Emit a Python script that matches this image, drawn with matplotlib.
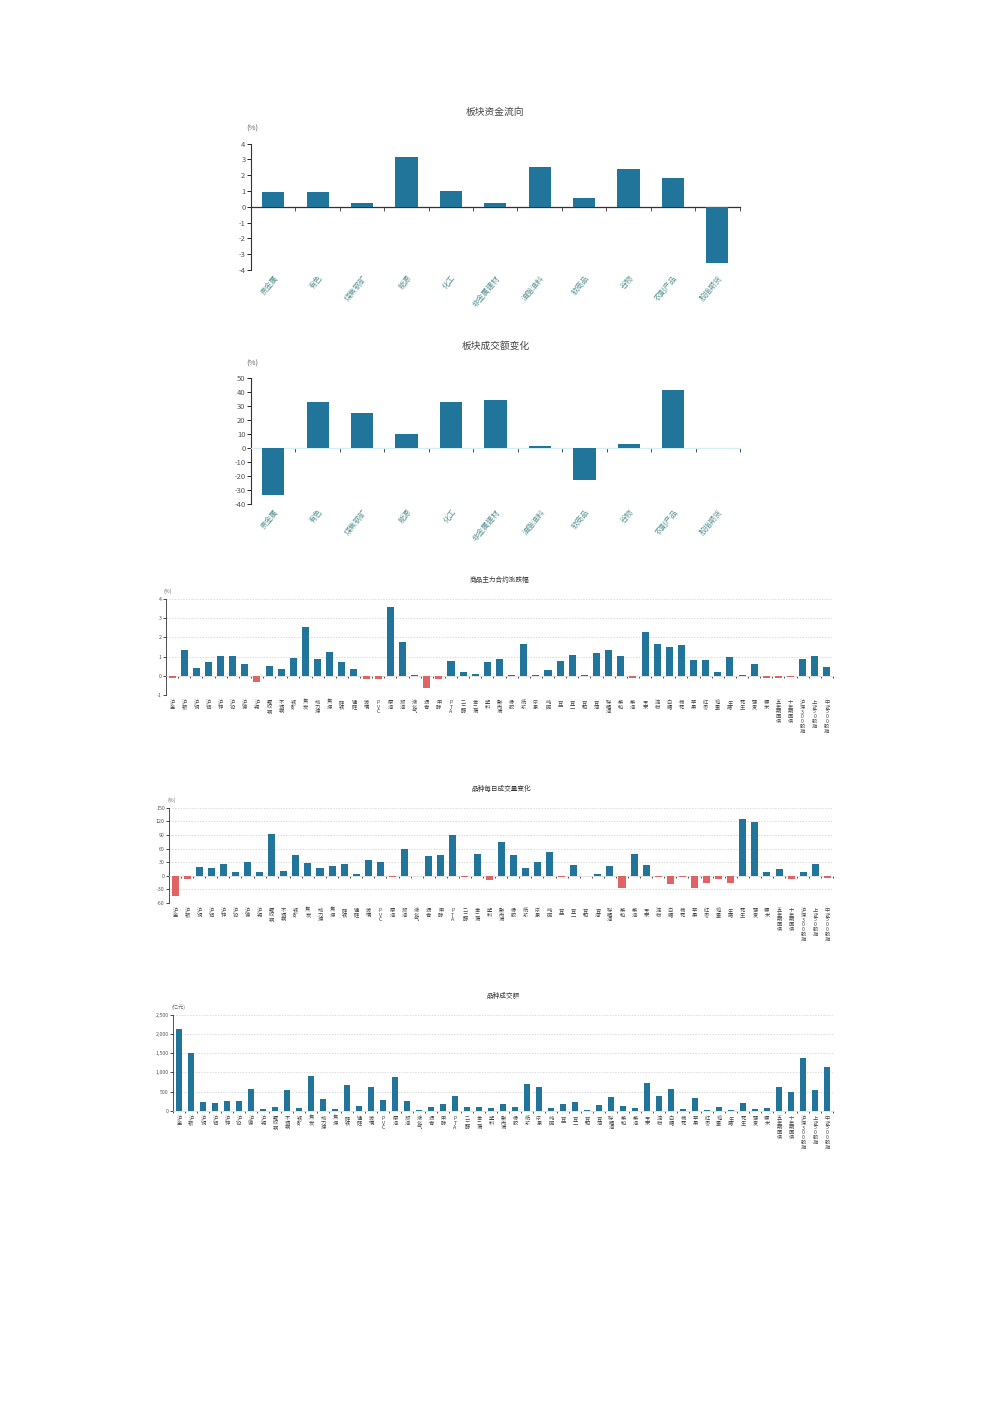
import matplotlib
matplotlib.use('Agg')
import matplotlib.pyplot as plt
import matplotlib.transforms as mtransforms
import numpy as np

plt.rcParams['font.family'] = ['Noto Sans CJK SC', 'DejaVu Sans']
plt.rcParams['axes.unicode_minus'] = False

# sector charts
sectors = ['贵金属', '有色', '煤焦钢矿', '能源', '化工', '非金属建材',
           '油脂油料', '软商品', '谷物', '农副产品', '股指期货']
fund_flow = [0.92, 0.97, 0.23, 3.13, 1.03, 0.25, 2.52, 0.55, 2.37, 1.85, -3.55]
turnover_chg = [-33.1, 33.3, 25.0, 10.0, 33.1, 34.5, 1.7, -22.9, 3.1, 41.7, 0.5]

# product charts
products = ['沪金', '沪银', '沪铜', '沪铝', '沪锌', '沪铅', '沪镍', '沪锡', '螺纹钢', '不锈钢',
            '铁矿', '焦炭', '动力煤', '焦煤', '硅铁', '锰硅', '玻璃', 'PVC', '原油', '燃油',
            '液化气', '沥青', '甲醇', 'PTA', '乙二醇', '苯乙烯', '塑料', '聚丙烯', '橡胶', '纸浆',
            '尿素', '纯碱', '豆一', '豆二', '豆粕', '豆油', '棕榈油', '菜粕', '菜油', '玉米',
            '淀粉', '白糖', '棉花', '苹果', '红枣', '鸡蛋', '生猪', '花生', '强麦', '粳米',
            '五年期国债', '十年期国债', '沪深300股指', '上证50股指', '中证500股指']
pct_change = [-0.10, 1.35, 0.40, 0.72, 1.03, 1.03, 0.61, -0.31, 0.51, 0.35,
              0.93, 2.55, 0.87, 1.22, 0.72, 0.35, -0.19, -0.17, 3.58, 1.77,
              0.05, -0.66, -0.17, 0.77, 0.19, 0.09, 0.72, 0.87, 0.03, 1.66,
              0.03, 0.30, 0.79, 1.07, 0.03, 1.19, 1.33, 1.03, -0.14, 2.29,
              1.64, 1.49, 1.61, 0.80, 0.80, 0.19, 0.98, 0.03, 0.63, -0.09,
              -0.09, -0.07, 0.87, 1.03, 0.45]
volume_chg = [-44.0, -6.6, 19.0, 16.8, 25.6, 8.0, 30.7, 8.0, 91.4, 11.0,
              45.4, 27.8, 16.8, 21.2, 25.6, 2.9, 35.8, 30.7, -2.2, 60.0,
              0.0, 44.6, 45.4, 90.0, -2.2, 47.5, -9.5, 73.9, 45.4, 16.8,
              30.7, 52.7, -2.2, 23.4, 0.0, 2.9, 21.2, -27.0, 47.5, 23.4,
              -2.2, -18.3, -2.2, -26.3, -15.4, -6.6, -16.0, 124.4, 117.8, 8.0,
              15.4, -7.3, 8.0, 25.6, -4.4]
amount = [2119, 1497, 234, 216, 268, 268, 571, 61, 112, 536,
          86, 908, 311, 52, 675, 130, 623, 285, 882, 260,
          26, 104, 182, 389, 104, 104, 78, 182, 95, 700,
          614, 78, 173, 234, 26, 156, 363, 130, 78, 718,
          389, 562, 52, 337, 26, 104, 26, 208, 43, 78,
          623, 493, 1375, 545, 1133]

BLUE = '#21759b'
RED = '#e06464'
W, H = 992, 1403

fig = plt.figure(figsize=(W / 100, H / 100), dpi=100)


def add_ax(left, top, right, bottom):
    return fig.add_axes([left / W, 1 - bottom / H, (right - left) / W, (bottom - top) / H])


def sector_chart(ax, values, ylim, ticks, title, zero_color):
    x = np.arange(len(sectors))
    ax.bar(x, values, width=0.5, color=BLUE, zorder=3)
    ax.set_xlim(-0.5, len(sectors) - 0.5)
    ax.set_ylim(*ylim)
    ax.set_yticks(ticks)
    ax.tick_params(axis='y', labelsize=5.5, labelcolor='#555555', length=3, width=0.6, pad=1)
    for s in ['top', 'right']:
        ax.spines[s].set_visible(False)
    ax.spines['left'].set_linewidth(0.8)
    ax.spines['left'].set_color('#333333')
    ax.spines['bottom'].set_position(('data', 0))
    ax.spines['bottom'].set_color(zero_color)
    ax.spines['bottom'].set_linewidth(0.9)
    ax.set_xticks(np.arange(len(sectors) + 1) - 0.5)
    ax.set_xticklabels([])
    ax.tick_params(axis='x', length=3, width=0.6, color='#333333')
    trans = mtransforms.blended_transform_factory(ax.transData, ax.transAxes)
    for i, name in enumerate(sectors):
        ax.text(i + 0.15, -0.03, name, transform=trans, rotation=50, ha='right', va='top',
                fontsize=5.5, color='#5a9494')
    ax.set_title(title, fontsize=7, color='#444444', pad=21)
    ax.text(-0.01, 1.1, '(%)', transform=ax.transAxes, fontsize=5.5, color='#666666', ha='left')


def product_chart(ax, values, ylim, ticks, ticklabels, title, unit, colored=True):
    x = np.arange(len(products))
    colors = [BLUE if v >= 0 or not colored else RED for v in values]
    ax.bar(x, values, width=0.58, color=colors, zorder=3)
    ax.set_xlim(-0.5, len(products) - 0.5)
    ax.set_ylim(*ylim)
    ax.set_yticks(ticks)
    ax.set_yticklabels(ticklabels)
    ax.tick_params(axis='y', labelsize=3.8, labelcolor='#555555', length=2, width=0.5, pad=1)
    ax.grid(axis='y', color='#cccccc', linestyle=(0, (2, 2)), linewidth=0.5, zorder=0)
    for s in ['top', 'right']:
        ax.spines[s].set_visible(False)
    ax.spines['left'].set_linewidth(0.6)
    ax.spines['left'].set_color('#333333')
    ax.spines['bottom'].set_position(('data', 0))
    ax.spines['bottom'].set_color('#dddddd')
    ax.spines['bottom'].set_linewidth(0.5)
    ax.set_xticks(np.arange(len(products) + 1) - 0.5)
    ax.set_xticklabels([])
    ax.tick_params(axis='x', length=1.5, width=0.6, color='#333333')
    trans = mtransforms.blended_transform_factory(ax.transData, ax.transAxes)
    for i, name in enumerate(products):
        ax.text(i, -0.05, '\n'.join(name), transform=trans, ha='center', va='top',
                fontsize=3.8, color='#444444', linespacing=0.95)
    ax.set_title(title, fontsize=4.8, color='#333333', pad=12)
    ax.text(-0.003, 1.06, unit, transform=ax.transAxes, fontsize=3.8, color='#666666', ha='left')


ax1 = add_ax(251, 143.7, 739.5, 270)
sector_chart(ax1, fund_flow, (-4, 4), range(-4, 5), '板块资金流向', '#333333')

ax2 = add_ax(251, 378.3, 740, 504.3)
sector_chart(ax2, turnover_chg, (-40, 50), range(-40, 51, 10), '板块成交额变化', '#d5eef5')

ax3 = add_ax(166, 599, 833, 695)
product_chart(ax3, pct_change, (-1, 4), range(-1, 5), [str(t) for t in range(-1, 5)],
              '商品主力合约涨跌幅', '(%)')

ax4 = add_ax(169, 807.7, 833.4, 903)
product_chart(ax4, volume_chg, (-60, 150), range(-60, 151, 30),
              [str(t) for t in range(-60, 151, 30)], '品种每日成交量变化', '(%)')

ax5 = add_ax(173, 1014.7, 833, 1111)
product_chart(ax5, amount, (0, 2500), range(0, 2501, 500),
              ['{:,}'.format(t) for t in range(0, 2501, 500)], '品种成交额', '(亿元)', colored=False)

fig.savefig('out.png', dpi=100, facecolor='white')
